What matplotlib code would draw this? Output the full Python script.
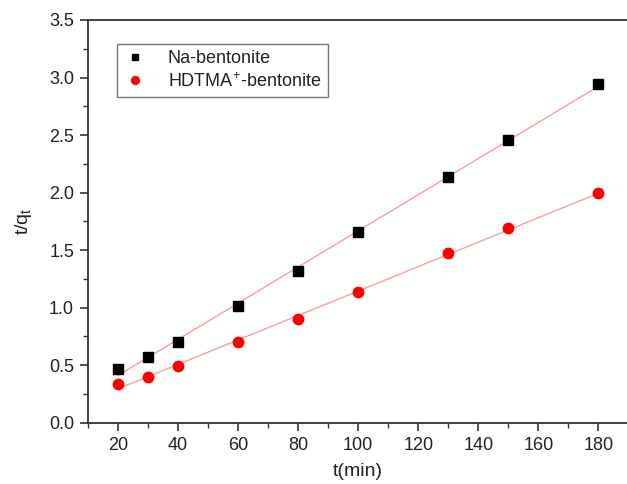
import numpy as np
import matplotlib
matplotlib.use("Agg")
import matplotlib.pyplot as plt
from matplotlib.ticker import MultipleLocator, FormatStrFormatter

plt.rcParams['font.family'] = ['Liberation Sans', 'DejaVu Sans']

t = [20, 30, 40, 60, 80, 100, 130, 150, 180]
na_bentonite = [0.463, 0.575, 0.705, 1.017, 1.32, 1.655, 2.138, 2.461, 2.944]
hdtma_bentonite = [0.335, 0.399, 0.494, 0.702, 0.905, 1.135, 1.477, 1.69, 1.993]

fig = plt.figure(figsize=(6.27, 4.84), dpi=100)
ax = fig.add_axes([0.1403, 0.1267, 0.8597, 0.832])

# linear fits of the pseudo-second-order plots
tt = np.array(t, dtype=float)
for y in (na_bentonite, hdtma_bentonite):
    k, b = np.polyfit(tt, y, 1)
    xs = np.array([tt.min(), tt.max()])
    ax.plot(xs, k * xs + b, color='#f4a0a0', lw=1.0, zorder=1)

ax.plot(t, na_bentonite, 's', color='black', ms=6.5, label='Na-bentonite', zorder=3)
ax.plot(t, hdtma_bentonite, 'o', color='red', ms=7.5,
        label=r'HDTMA$^\mathregular{+}$-bentonite', zorder=3)

ax.set_xlim(10, 189.5)
ax.set_ylim(0, 3.5)
ax.set_xticks([20, 40, 60, 80, 100, 120, 140, 160, 180])
ax.xaxis.set_minor_locator(MultipleLocator(10))
ax.yaxis.set_major_locator(MultipleLocator(0.5))
ax.yaxis.set_minor_locator(MultipleLocator(0.25))
ax.yaxis.set_major_formatter(FormatStrFormatter('%.1f'))

ax.tick_params(which='major', direction='out', length=6, width=1.2, labelsize=13,
               color='#333333', labelcolor='#222222', pad=4)
ax.tick_params(which='minor', direction='out', length=3.5, width=1.0, color='#333333')
ax.tick_params(top=False, right=False, which='both')

for s in ('left', 'bottom', 'top'):
    ax.spines[s].set_linewidth(1.3)
    ax.spines[s].set_color('#333333')
ax.spines['right'].set_visible(False)

ax.set_xlabel('t(min)', fontsize=14, labelpad=7, color='#222222')
ax.set_ylabel(r't/q$_\mathregular{t}$', fontsize=14, labelpad=11, color='#222222')

leg = ax.legend(loc='upper left', bbox_to_anchor=(0.053, 0.94), fontsize=13,
                frameon=True, fancybox=False, edgecolor='#555555',
                markerscale=0.75, handletextpad=1.1, borderpad=0.35,
                labelspacing=0.25, handlelength=1.4, borderaxespad=0)
leg.get_frame().set_linewidth(1.0)
for txt in leg.get_texts():
    txt.set_color('#222222')

fig.savefig('out.png', dpi=100)
